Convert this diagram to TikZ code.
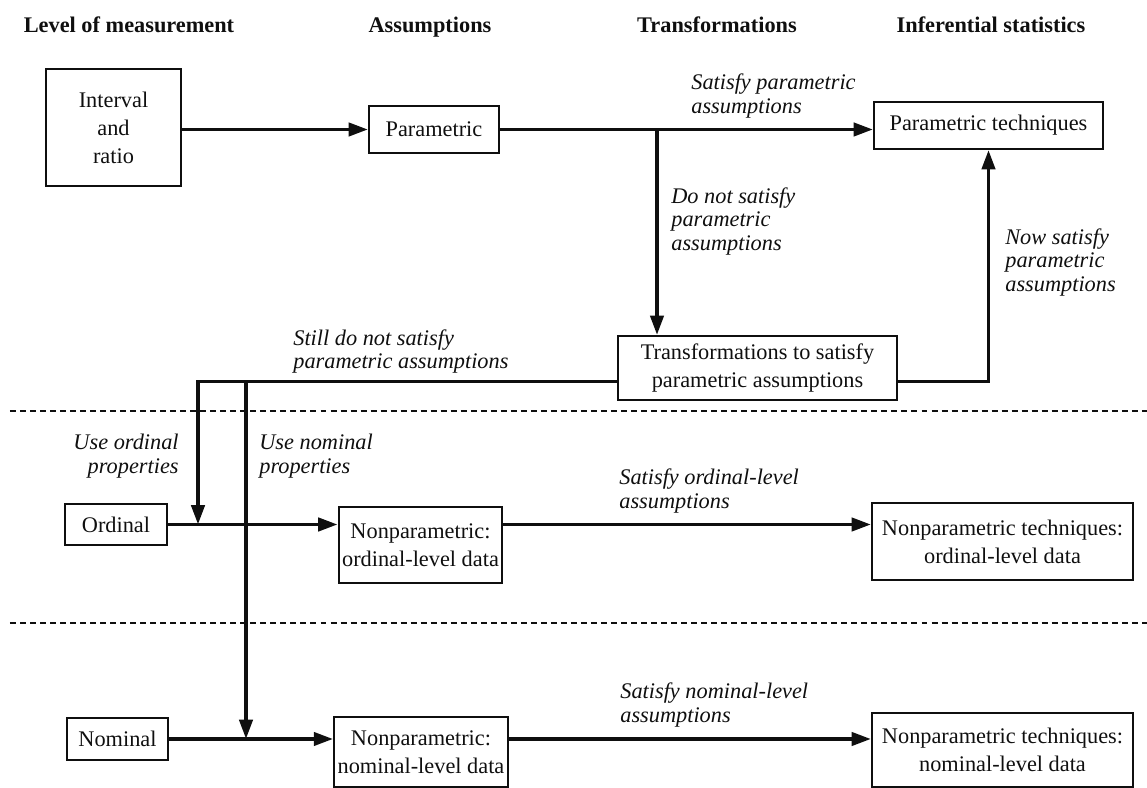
\documentclass[tikz,border=0pt]{standalone}
\usepackage{fontspec}
\setmainfont{Liberation Serif}
\usetikzlibrary{arrows.meta,calc}
\definecolor{ink}{RGB}{15,15,15}
\tikzset{
  box/.style={draw=ink,line width=1.2pt,inner sep=2pt,align=center,font=\fontsize{12.7}{16}\selectfont,text=ink},
  lbl/.style={inner sep=0pt,font=\fontsize{12.7}{13.6}\selectfont\itshape,text=ink},
  hdr/.style={anchor=base,inner sep=0pt,font=\fontsize{12.7}{15}\selectfont\bfseries,text=ink},
  flow/.style={-{Triangle[length=11pt,width=7.5pt]},line width=2.1pt,ink},
  sep/.style={ink,line width=1pt,dash pattern=on 3.4pt off 2.3pt},
}
\begin{document}
\begin{tikzpicture}[x=1cm,y=1cm]
\useasboundingbox (0,0) rectangle (22.94,15.76);
% ================= Column headers =================
\node[hdr] (hlevel) at (2.58,15.10) {Level of measurement};
\node[hdr] (hassum) at (8.60,15.10) {Assumptions};
\node[hdr] (htrans) at (14.34,15.10) {Transformations};
\node[hdr] (hinfer) at (19.82,15.10) {Inferential statistics};

% ================= Interval / ratio band =================
\node[box,minimum width=2.70cm,minimum height=2.34cm] (interval) at (2.27,13.21) {Interval\\and\\ratio};
\node[box,minimum width=2.60cm,minimum height=0.94cm] (param) at (8.68,13.17) {Parametric};
\node[box,minimum width=4.58cm,minimum height=0.94cm] (ptech) at (19.77,13.25) {Parametric techniques};
\node[box,minimum width=5.58cm,minimum height=1.28cm] (trans) at (15.15,8.40) {Transformations to satisfy\\parametric assumptions};
\coordinate (split) at (13.14,13.17);
\coordinate (tr) at ($(trans.east)+(0,-0.27)$);
\coordinate (tl) at ($(trans.west)+(0,-0.27)$);
\draw[flow] (interval.east |- param) -- (param.west);
\draw[flow] (param.east) -- (param.east -| ptech.west);
\draw[flow] (split) -- (split |- trans.north);
\draw[flow] (tr) -| (ptech.south);
\node[lbl,anchor=south west,align=left] (lsat) at (13.82,13.39) {Satisfy parametric\\assumptions};
\node[lbl,anchor=north west,align=left] (lnot) at (13.42,12.02) {Do not satisfy\\parametric\\assumptions};
\node[lbl,anchor=north west,align=left] (lnow) at (20.10,11.20) {Now satisfy\\parametric\\assumptions};
\node[lbl,anchor=north west,align=left] (lstill) at (5.86,9.18) {Still do not satisfy\\parametric assumptions};

% band separators
\draw[sep] (0.2,7.54) -- (22.94,7.54);
\draw[sep] (0.2,3.30) -- (22.94,3.30);

% ================= Ordinal band =================
\node[box,minimum width=2.04cm,minimum height=0.82cm] (ordinal) at (2.32,5.27) {Ordinal};
\node[box,minimum width=2.46cm,minimum height=1.52cm] (npord) at (8.41,4.86) {Nonparametric:\\ordinal-level data};
\node[box,minimum width=5.22cm,minimum height=1.54cm] (ntord) at (20.05,4.93) {Nonparametric techniques:\\ordinal-level data};
\coordinate (ordj) at (3.96,5.27);
\draw[flow] (tl) -| (ordj);
\draw[flow] (ordinal.east) -- (ordinal.east -| npord.west);
\draw[flow] (ordinal.east -| npord.east) -- (ordinal.east -| ntord.west);
\node[lbl,anchor=north east,align=right] (luseo) at (3.58,7.08) {Use ordinal\\properties};
\node[lbl,anchor=south west,align=left] (lsato) at (12.38,5.48) {Satisfy ordinal-level\\assumptions};

% ================= Nominal band =================
\node[box,minimum width=2.02cm,minimum height=0.84cm] (nominal) at (2.35,0.98) {Nominal};
\node[box,minimum width=2.44cm,minimum height=1.40cm] (npnom) at (8.42,0.72) {Nonparametric:\\nominal-level data};
\node[box,minimum width=5.22cm,minimum height=1.48cm] (ntnom) at (20.05,0.76) {Nonparametric techniques:\\nominal-level data};
\coordinate (nomj) at (4.92,0.98);
\draw[flow] (tl) -| (nomj);
\draw[flow] (nominal.east) -- (nominal.east -| npnom.west);
\draw[flow] (nominal.east -| npnom.east) -- (nominal.east -| ntnom.west);
\node[lbl,anchor=north west,align=left] (lusen) at (5.18,7.08) {Use nominal\\properties};
\node[lbl,anchor=south west,align=left] (lsatn) at (12.40,1.20) {Satisfy nominal-level\\assumptions};
\end{tikzpicture}
\end{document}
